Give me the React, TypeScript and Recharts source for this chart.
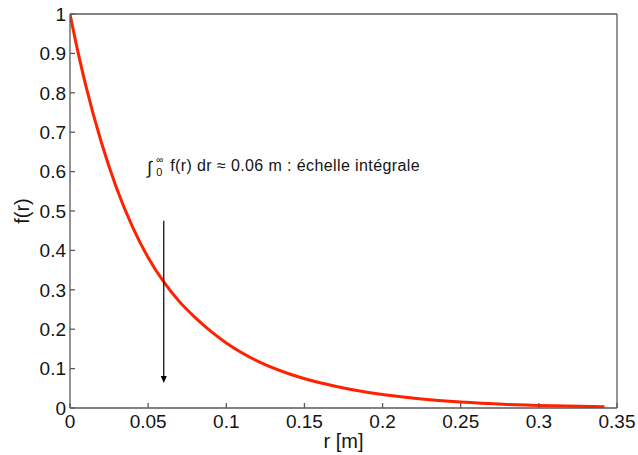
import React from 'react';
import { LineChart, Line, XAxis, YAxis, ReferenceLine, ReferenceDot } from 'recharts';

const rValues = [0, 0.005, 0.01, 0.02, 0.03, 0.04, 0.05, 0.06, 0.07, 0.08, 0.09, 0.1, 0.12, 0.14, 0.16, 0.18, 0.2, 0.22, 0.25, 0.28, 0.31, 0.342];
const fValues = [1.0, 0.905, 0.82, 0.675, 0.556, 0.46, 0.382, 0.32, 0.27, 0.23, 0.195, 0.165, 0.119, 0.087, 0.064, 0.047, 0.034, 0.025, 0.015, 0.009, 0.0055, 0.003];
const xTicks = [0, 0.05, 0.1, 0.15, 0.2, 0.25, 0.3, 0.35];
const xTickLabels = ['0', '0.05', '0.1', '0.15', '0.2', '0.25', '0.3', '0.35'];
const yTicks = [0, 0.1, 0.2, 0.3, 0.4, 0.5, 0.6, 0.7, 0.8, 0.9, 1];
const yTickLabels = ['0', '0.1', '0.2', '0.3', '0.4', '0.5', '0.6', '0.7', '0.8', '0.9', '1'];
const integralScale = 0.06;
const annotationAnchor = { r: 0.05, f: 0.602 };
const arrowStart = { r: 0.06, f: 0.475 };
const arrowEnd = { r: 0.06, f: 0.0635 };

const data = rValues.map((r, i) => ({ r, f: fValues[i] }));

const FONT = '"Liberation Sans", Arial, Helvetica, sans-serif';
const AXIS = '#5a5a5a';
const TEXT = '#141414';

const AnnotationShape = (props: any) => {
  const { cx, cy } = props;
  if (cx == null || cy == null) return null;
  return (
    <g fontFamily={FONT} fill={TEXT}>
      <text x={cx - 1} y={cy + 3} fontSize={18}>∫</text>
      <text x={cx + 8} y={cy - 8} fontSize={10}>∞</text>
      <text x={cx + 8} y={cy + 5} fontSize={11}>0</text>
      <text x={cx + 22} y={cy} fontSize={16} letterSpacing={0.4}>
        {`f(r) dr ≈ ${integralScale} m : échelle intégrale`}
      </text>
    </g>
  );
};

const ArrowHead = (props: any) => {
  const { cx, cy } = props;
  if (cx == null || cy == null) return null;
  return <polygon points={`${cx - 3},${cy - 7} ${cx + 3},${cy - 7} ${cx},${cy}`} fill="#000" />;
};

export default function App() {
  return (
    <div style={{ position: 'absolute', left: 0, top: 0, width: 638, height: 455, background: '#fff' }}>
      <LineChart
        width={638}
        height={455}
        data={data}
        margin={{ top: 13, right: 20, bottom: 0, left: 0 }}
      >
        <XAxis
          xAxisId="b"
          dataKey="r"
          type="number"
          domain={[0, 0.35]}
          ticks={xTicks}
          tickFormatter={(v: number) => xTickLabels[xTicks.indexOf(v)] ?? String(v)}
          interval={0}
          height={47}
          tickSize={-5}
          tickMargin={12}
          stroke={AXIS}
          strokeWidth={1.3}
          tick={{ fontSize: 19, fill: TEXT, fontFamily: FONT }}
          allowDataOverflow
          label={{ value: 'r [m]', position: 'insideBottom', offset: 7, style: { fontSize: 20, fill: TEXT, fontFamily: FONT } }}
        />
        <XAxis
          xAxisId="t"
          orientation="top"
          dataKey="r"
          type="number"
          domain={[0, 0.35]}
          ticks={xTicks}
          interval={0}
          height={1}
          tickSize={-5}
          tick={false}
          stroke={AXIS}
          strokeWidth={1.3}
          allowDataOverflow
        />
        <YAxis
          yAxisId="l"
          type="number"
          domain={[0, 1]}
          ticks={yTicks}
          tickFormatter={(v: number) => yTickLabels[yTicks.indexOf(v)] ?? String(v)}
          interval={0}
          width={70}
          tickSize={-5}
          tickMargin={9}
          stroke={AXIS}
          strokeWidth={1.3}
          tick={{ fontSize: 19, fill: TEXT, fontFamily: FONT }}
          allowDataOverflow
          label={{
            content: (p: any) => {
              const vb = p.viewBox || { x: 0, y: 14, width: 70, height: 394 };
              const cx = vb.x + 29;
              const cy = vb.y + vb.height / 2;
              return (
                <text x={cx} y={cy} transform={`rotate(-90 ${cx} ${cy})`} textAnchor="middle" fontSize={20} fill={TEXT} fontFamily={FONT}>
                  f(r)
                </text>
              );
            },
          }}
        />
        <YAxis
          yAxisId="r"
          orientation="right"
          type="number"
          domain={[0, 1]}
          ticks={yTicks}
          interval={0}
          width={1}
          tickSize={-5}
          tick={false}
          stroke={AXIS}
          strokeWidth={1.3}
          allowDataOverflow
        />
        <Line
          xAxisId="b"
          yAxisId="l"
          type="monotone"
          dataKey="f"
          stroke="#ff2200"
          strokeWidth={3}
          dot={false}
          isAnimationActive={false}
        />
        <ReferenceLine
          xAxisId="b"
          yAxisId="l"
          segment={[{ x: arrowStart.r, y: arrowStart.f }, { x: arrowEnd.r, y: arrowEnd.f + 0.01 }]}
          stroke="#000"
          strokeWidth={1.2}
          ifOverflow="visible"
        />
        <ReferenceDot
          xAxisId="b"
          yAxisId="l"
          x={arrowEnd.r}
          y={arrowEnd.f}
          r={0}
          shape={ArrowHead}
          ifOverflow="visible"
        />
        <ReferenceDot
          xAxisId="b"
          yAxisId="l"
          x={annotationAnchor.r}
          y={annotationAnchor.f}
          r={0}
          shape={AnnotationShape}
          ifOverflow="visible"
        />
      </LineChart>
    </div>
  );
}
